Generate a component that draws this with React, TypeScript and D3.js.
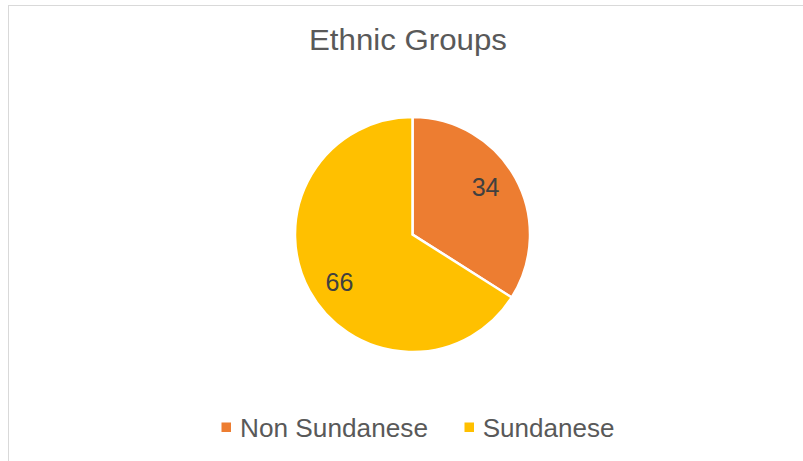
import React from "react";
import * as d3 from "d3";

const categories = ["Non Sundanese", "Sundanese"];
const values = [34, 66];
const colors = ["#ED7D31", "#FFC000"];
const title = "Ethnic Groups";

const W = 803;
const H = 461;

export default function App() {
  const cx = 412.5;
  const cy = 234.5;
  const R = 117.5;

  const pie = d3
    .pie<number>()
    .sort(null)
    .value((d) => d)
    .startAngle(0)
    .endAngle(2 * Math.PI);
  const arcs = pie(values);
  const arcGen = d3.arc<d3.PieArcDatum<number>>().innerRadius(0).outerRadius(R);

  const labelR = 87;
  const font = "'Liberation Sans', Arial, Helvetica, sans-serif";

  const legendX = [221.5, 464.5];
  const legendTextX = [240, 482.7];
  const legendLen = [188, 131.7];

  return (
    <svg
      width={W}
      height={H}
      style={{ position: "absolute", left: 0, top: 0, background: "#fff" }}
      fontFamily={font}
    >
      <rect x={8.5} y={5.5} width={W + 10} height={H + 10} fill="#fff" stroke="#D9D9D9" strokeWidth={1} />
      <text
        x={309}
        y={50}
        fontSize={29}
        fill="#595959"
        textLength={198}
        lengthAdjust="spacingAndGlyphs"
      >
        {title}
      </text>
      <g transform={`translate(${cx},${cy})`}>
        {arcs.map((a, i) => (
          <path key={i} d={arcGen(a) as string} fill={colors[i]} stroke="#fff" strokeWidth={2.5} strokeLinejoin="miter" />
        ))}
        {arcs.map((a, i) => {
          const mid = (a.startAngle + a.endAngle) / 2 - 0.07;
          const x = Math.sin(mid) * labelR;
          const y = -Math.cos(mid) * labelR;
          return (
            <text key={i} x={x} y={y} dy="0.36em" textAnchor="middle" fontSize={25} fill="#404040">
              {values[i]}
            </text>
          );
        })}
      </g>
      {categories.map((c, i) => (
        <g key={c}>
          <rect x={legendX[i]} y={422.5} width={9.5} height={9.5} fill={colors[i]} />
          <text
            x={legendTextX[i]}
            y={436.5}
            fontSize={26}
            fill="#595959"
            textLength={legendLen[i]}
            lengthAdjust="spacingAndGlyphs"
          >
            {c}
          </text>
        </g>
      ))}
    </svg>
  );
}
